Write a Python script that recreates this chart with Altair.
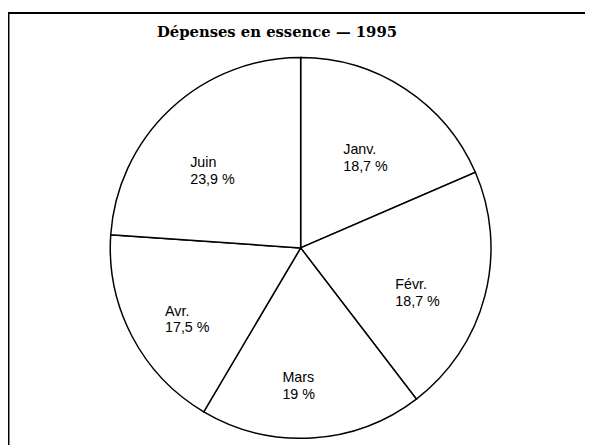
import altair as alt
import pandas as pd

# --- data ---
months = ["Janv.", "Févr.", "Mars", "Avr.", "Juin"]
pct_labels = ["18,7 %", "18,7 %", "19 %", "17,5 %", "23,9 %"]
# slice sizes as drawn (percent of the full circle, measured from the angles)
slice_share = [18.5, 21.1, 18.9, 17.6, 23.9]
order = [1, 2, 3, 4, 5]
title_text = "Dépenses en essence — 1995"

df = pd.DataFrame({"mois": months, "etiquette": pct_labels,
                   "part": slice_share, "ordre": order})
df["texte"] = df["mois"] + "\n" + df["etiquette"]

W, H = 585, 440
CX, CY = 296.7, 240.2
R = 193

base = alt.Chart(df).encode(
    theta=alt.Theta("part:Q", stack=True),
    order=alt.Order("ordre:Q"),
)

pie = base.mark_arc(fill="white", stroke="black", strokeWidth=1.5,
                    outerRadius=R).encode(x=alt.value(CX), y=alt.value(CY))

labels = base.mark_text(radius=126, align="left", baseline="middle", dx=-26,
                        dy=6, lineBreak="\n", font="Liberation Sans",
                        fontSize=14.5, lineHeight=17, color="black").encode(
    text="texte:N", x=alt.value(CX), y=alt.value(CY))

one = pd.DataFrame({"k": [0]})
frame_top = alt.Chart(one).mark_rule(color="black", strokeWidth=2).encode(
    x=alt.value(0), x2=alt.value(W), y=alt.value(2))
frame_left = alt.Chart(one).mark_rule(color="black", strokeWidth=2).encode(
    x=alt.value(0.5), y=alt.value(1), y2=alt.value(H))

chart = alt.layer(pie, labels, frame_top, frame_left).properties(
    width=W, height=H,
    autosize=alt.AutoSizeParams(type="none"),
    padding=0,
    title=alt.TitleParams(title_text, anchor="start", frame="group", offset=0,
                          baseline="alphabetic", dx=151, dy=41,
                          font="DejaVu Serif", fontSize=15, fontWeight="bold",
                          color="black"),
).configure_view(stroke=None)

chart.save("out.html", embed_options={"renderer": "svg", "actions": False})
